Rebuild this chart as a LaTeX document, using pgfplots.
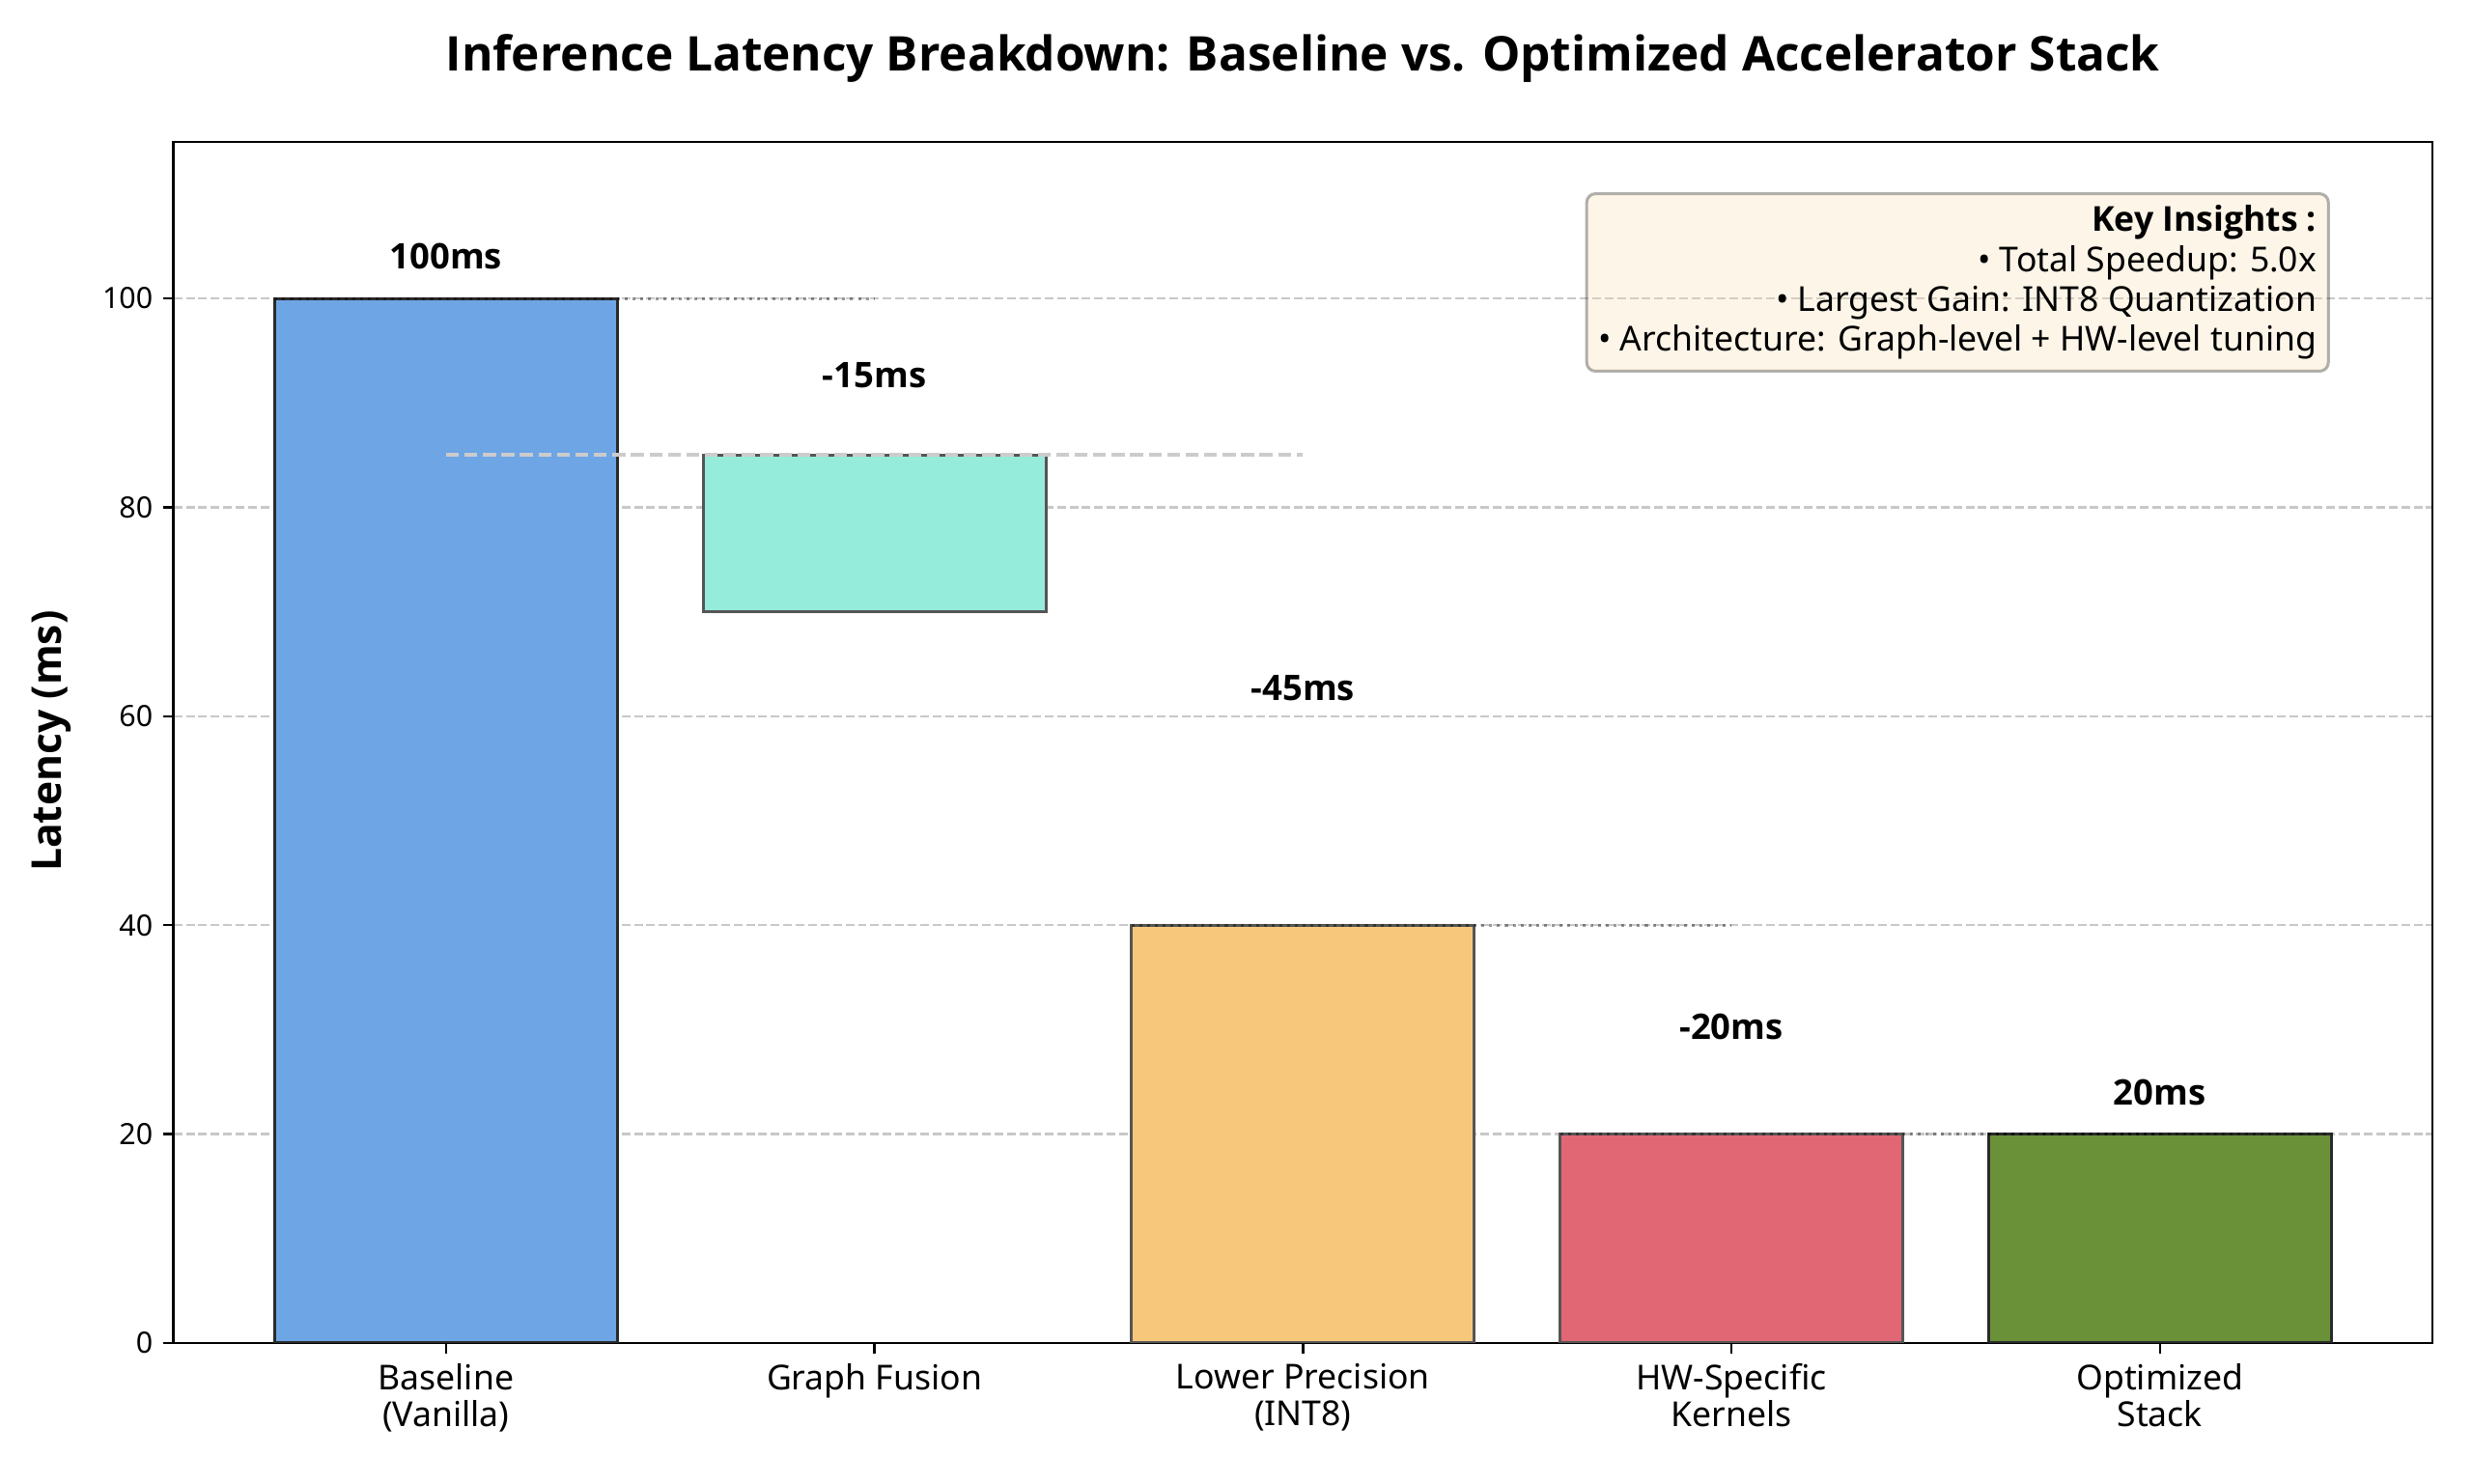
\documentclass[border=0pt]{standalone}
\usepackage{fontspec}
\IfFontExistsTF{Open Sans Bold}
  {\setmainfont{Noto Sans}[BoldFont={Open Sans Bold}]}
  {\IfFontExistsTF{Noto Sans/B}
    {\setmainfont{Noto Sans}[BoldFont={Noto Sans/B}]}
    {\setmainfont{Noto Sans}[BoldFont={Noto Sans}, BoldFeatures={FakeBold=2.5}]}}
\usepackage{pgfplots}
\pgfplotsset{compat=1.18}

\definecolor{cBase}{HTML}{6DA5E5}
\definecolor{cFusion}{HTML}{96ECDA}
\definecolor{cInt}{HTML}{F7C87B}
\definecolor{cHW}{HTML}{E16775}
\definecolor{cOpt}{HTML}{6A9137}
\definecolor{edgeDark}{HTML}{2A2A2A}
\definecolor{edgeGray}{HTML}{555555}
\definecolor{gridGray}{HTML}{C8C8C8}
\definecolor{boxFill}{HTML}{F5DEB3}

\begin{document}
\begin{tikzpicture}
\begin{axis}[
  scale only axis,
  width=769.6pt, height=409.3pt,
  xmin=-0.636, xmax=4.636,
  ymin=0, ymax=115,
  xtick={0,1,2,3,4},
  xticklabels={{Baseline\\(Vanilla)},{Graph Fusion},{Lower Precision\\(INT8)},{HW-Specific\\Kernels},{Optimized\\Stack}},
  ytick={0,20,40,60,80,100},
  tick align=outside, xtick pos=bottom, ytick pos=left,
  major tick length=3.5pt,
  axis line style={line width=0.8pt},
  every tick/.style={black, line width=0.8pt},
  ymajorgrids,
  grid style={gridGray, line width=0.8pt, dash pattern=on 2.96pt off 1.28pt},
  /pgf/number format/assume math mode=true,
  yticklabel style={font=\fontsize{10}{12}\selectfont},
  xticklabel style={font=\fontsize{11.7}{12.6}\selectfont, align=center},
  ylabel={Latency (ms)},
  ylabel style={at={(rel axis cs:-0.0538,0.501)}, anchor=center, rotate=0, font=\bfseries\fontsize{14}{17}\selectfont},
  no markers,
  connector/.style={black, opacity=0.4, line width=1pt, dash pattern=on 1pt off 1.65pt},
]
% stage bars: each spans its lower and upper latency (ms), width 0.8
\addplot[fill=cBase, draw=edgeDark, line width=1pt]
  coordinates {(-0.4,0) (0.4,0) (0.4,100) (-0.4,100)} -- cycle;
\addplot[fill=cFusion, draw=edgeGray, line width=1pt]
  coordinates {(0.6,70) (1.4,70) (1.4,85) (0.6,85)} -- cycle;
\addplot[fill=cInt, draw=edgeGray, line width=1pt]
  coordinates {(1.6,0) (2.4,0) (2.4,40) (1.6,40)} -- cycle;
\addplot[fill=cHW, draw=edgeGray, line width=1pt]
  coordinates {(2.6,0) (3.4,0) (3.4,20) (2.6,20)} -- cycle;
\addplot[fill=cOpt, draw=edgeDark, line width=1pt]
  coordinates {(3.6,0) (4.4,0) (4.4,20) (3.6,20)} -- cycle;

% step connectors
\addplot[connector] coordinates {(-0.4,100) (1,100)};
\addplot[black!20, line width=1.3pt, dash pattern=on 4.4pt off 1.9pt] coordinates {(0,85) (2,85)};
\addplot[connector] coordinates {(1.6,40) (3,40)};
\addplot[connector] coordinates {(2.6,20) (4,20)};
\addplot[connector] coordinates {(3.6,20) (4.4,20)};

% value labels
\begin{scope}[every node/.style={font=\bfseries\fontsize{12}{14}\selectfont, anchor=center, inner sep=0pt}]
\node at (axis cs:0,104.0) {100ms};
\node at (axis cs:1,92.6) {-15ms};
\node at (axis cs:2,62.7) {-45ms};
\node at (axis cs:3,30.3) {-20ms};
\node at (axis cs:4,24.0) {20ms};
\end{scope}

% summary box
\node[anchor=north east, align=right, rounded corners=3pt,
      fill=boxFill, fill opacity=0.3, text opacity=1,
      draw=black, draw opacity=0.3, line width=1pt,
      inner xsep=4pt, inner ysep=4pt,
      font=\fontsize{11.7}{13.6}\selectfont]
  at (rel axis cs:0.9546,0.958)
  {\textbf{Key Insights :}\\
   • Total Speedup: 5.0x\\
   • Largest Gain: INT8 Quantization\\
   • Architecture: Graph-level + HW-level tuning};
\end{axis}
% chart title
\node[font=\bfseries\fontsize{16.3}{19}\selectfont, anchor=center, inner sep=0pt]
  at ([yshift=28.4pt]current axis.north)
  {Inference Latency Breakdown: Baseline vs. Optimized Accelerator Stack};
\pgfresetboundingbox
\useasboundingbox ([shift={(-59.1pt,-47.8pt)}]current axis.south west)
  rectangle ([shift={(13.5pt,48.3pt)}]current axis.north east);
\end{tikzpicture}
\end{document}
